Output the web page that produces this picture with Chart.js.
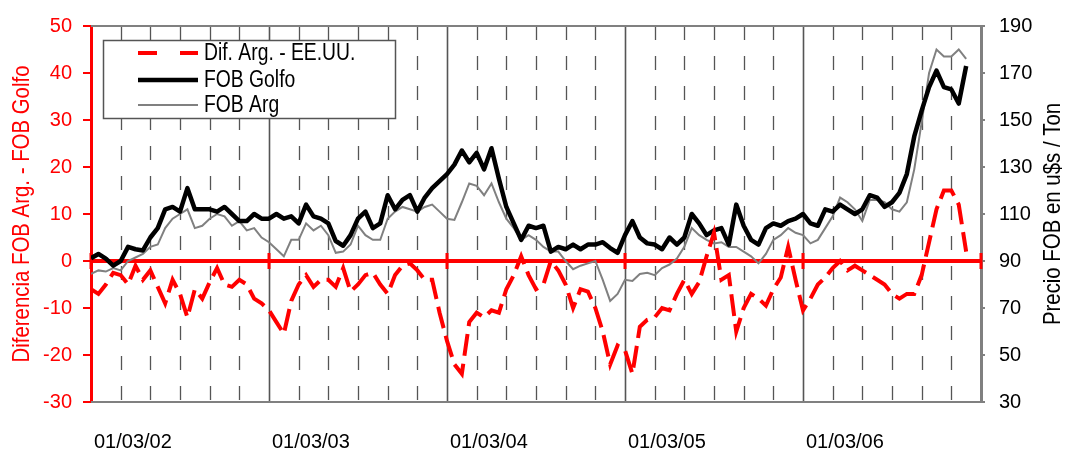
<!DOCTYPE html>
<html>
<head>
<meta charset="utf-8">
<title>FOB Golfo vs FOB Arg</title>
<script src="https://cdn.jsdelivr.net/npm/chart.js@4/dist/chart.umd.min.js"></script>
<style>
  html, body { margin: 0; padding: 0; background: #fff; }
  #wrap { width: 1066px; height: 453px; position: relative; }
</style>
</head>
<body>
<div id="wrap"><canvas id="fob-chart"></canvas></div>
<script>
// half-month samples, starting 01/03/02
const STEP = 0.5;
const yearLabels = ['01/03/02', '01/03/03', '01/03/04', '01/03/05', '01/03/06'];

// Dif. Arg. - EE.UU. (left axis)
const difArgEEUU = [
  -6, -7, -5, -2.5, -3, -5, -1, -4, -2, -5.5, -9, -4, -7, -12, -6, -8, -4.5, -1.5, -5, -5.5,
  -4, -5, -8, -9, -10.5, -13, -15.5, -8.5, -5, -3, -5.5, -4, -4, -5.5, -1.5, -6.5, -5, -3, -2.5, -5,
  -7, -3, -1, -0.5, -2, -4, -4, -11, -17, -22, -24, -13, -11, -12, -10.5, -11, -6, -3, 1, -3,
  -6, -5, 0, -2, -5, -10, -6, -6.5, -10, -15, -22, -18, -19, -24, -14, -12.5, -12, -10, -10.5, -7,
  -4, -7, -4.5, 1, 6, -4, -3, -15, -10, -7, -8, -9.5, -6, -3.5, 3, -4, -10.5, -8, -5, -3.5,
  -1.5, 0, -2, -1, -2, -3, -4, -5, -7, -8, -7, -7, -3, 4, 11, 15, 15, 12, 2
];

// FOB Golfo (right axis)
const fobGolfo = [
  91.2, 93, 91, 88, 90, 96, 95, 94.5, 100, 104, 112, 113, 111, 121, 112, 112, 112, 111, 113, 110,
  107, 107, 110, 108, 108, 110, 108, 109, 106, 114, 109, 108, 106, 98.5, 96.5, 101, 108, 111, 104, 106,
  118, 112, 116, 118, 111, 117, 121, 124, 127, 131, 137, 132, 136, 129, 138, 125, 113, 106, 99, 105,
  104, 105, 94, 96, 95, 97, 95, 97, 97, 98, 95.5, 93.5, 101, 107, 100, 97.5, 97, 95, 100, 97,
  100, 110, 106, 101, 103, 104, 97, 114, 105, 99, 97, 104, 106, 105, 107, 108, 110, 106, 105, 112,
  111, 114, 112, 110, 112, 118, 117, 113, 115, 119, 127, 143, 154, 164, 171, 164, 163, 157, 173
];

// FOB Arg (right axis)
const fobArg = [
  84.5, 86, 85.5, 87, 86, 90, 91.5, 93, 96, 97, 104, 108, 110, 112, 104, 105, 108, 110, 109, 105,
  107, 103, 104, 100, 98, 95, 92, 99, 99, 106, 103, 105, 101, 93.5, 94, 97, 105, 101, 99, 99,
  108, 111, 113, 112, 111, 113, 114, 111, 108, 107.5, 115, 123, 122, 118, 123, 115, 108, 104, 99, 101,
  99, 96, 94, 94, 90, 86.5, 88, 89, 90, 82, 73, 76, 82, 81.5, 84.5, 85, 84, 87, 88.5, 91,
  96, 104, 101, 99, 97.5, 98, 96, 96, 94, 92, 89, 93, 99, 101, 104, 102, 101, 97.5, 99, 104,
  109, 117, 115, 112, 107, 116, 116, 115, 112, 111, 115, 129, 149, 170, 180, 177, 177, 180, 176
];

const months = difArgEEUU.map((_, i) => i * STEP);
const toPoints = (arr) => arr.map((v, i) => ({ x: months[i], y: v }));

const SANS = "'Liberation Sans', Arimo, Arial, sans-serif";

// narrow-looking text: Liberation Sans squeezed along the reading direction
function narrowText(ctx, text, x, y, size, squeeze, angle, color, align) {
  ctx.save();
  ctx.translate(x, y);
  if (angle) ctx.rotate(angle);
  ctx.scale(squeeze, 1);
  ctx.font = size + 'px ' + SANS;
  ctx.fillStyle = color;
  ctx.textAlign = align;
  ctx.textBaseline = 'middle';
  ctx.fillText(text, 0, 0);
  ctx.restore();
}

// gridlines every 2 months, solid ones at each year, red zero axis with year marks
const gridPlugin = {
  id: 'fobGrid',
  beforeDatasetsDraw(chart) {
    const ctx = chart.ctx;
    const xs = chart.scales.x;
    const ys = chart.scales.y;
    const { top, bottom, left, right } = chart.chartArea;
    ctx.save();
    ctx.strokeStyle = '#555';
    xs.ticks.forEach(t => {
      if (t.value <= xs.min || t.value >= xs.max) return;
      const px = Math.round(xs.getPixelForValue(t.value)) + 0.5;
      const isYear = t.value % 12 === 0;
      ctx.lineWidth = isYear ? 1.6 : 1.3;
      ctx.setLineDash(isYear ? [] : [14, 16]);
      ctx.beginPath();
      ctx.moveTo(px, top);
      ctx.lineTo(px, bottom);
      ctx.stroke();
    });
    ctx.setLineDash([]);
    ctx.strokeStyle = '#808080';
    ctx.lineWidth = 2;
    ctx.beginPath();
    ctx.moveTo(left, top); ctx.lineTo(right, top);
    ctx.moveTo(left, bottom); ctx.lineTo(right, bottom);
    ctx.stroke();

    const y0 = ys.getPixelForValue(0);
    ctx.strokeStyle = '#FF0000';
    ctx.lineWidth = 4;
    ctx.beginPath();
    ctx.moveTo(left, y0); ctx.lineTo(right, y0);
    ctx.stroke();
    ctx.lineWidth = 3;
    xs.ticks.forEach(t => {
      if (t.value % 12 !== 0) return;
      const px = xs.getPixelForValue(t.value);
      ctx.beginPath();
      ctx.moveTo(px, y0 - 8); ctx.lineTo(px, y0 + 8);
      ctx.stroke();
    });
    ctx.restore();
  }
};

// boxed legend in the upper left and the two vertical axis titles
const legendPlugin = {
  id: 'fobLegend',
  afterDraw(chart) {
    const ctx = chart.ctx;
    const { top, bottom } = chart.chartArea;
    ctx.save();
    ctx.fillStyle = '#fff';
    ctx.fillRect(103, 40, 292, 78);
    ctx.strokeStyle = '#555';
    ctx.lineWidth = 1.5;
    ctx.strokeRect(103.5, 40.5, 292, 78);
    const rows = [53, 80, 105];
    chart.data.datasets.forEach((ds, i) => {
      ctx.strokeStyle = ds.borderColor;
      ctx.lineWidth = ds.borderWidth;
      ctx.setLineDash(ds.borderDash ? [19, 23] : []);
      ctx.beginPath();
      ctx.moveTo(138, rows[i]); ctx.lineTo(198, rows[i]);
      ctx.stroke();
      narrowText(ctx, ds.label, 204, rows[i] + 1, 23, 0.84, 0, '#000', 'left');
    });
    ctx.setLineDash([]);

    const midY = (top + bottom) / 2;
    narrowText(ctx, 'Diferencia FOB Arg. - FOB Golfo', 22, midY, 24, 0.85, -Math.PI / 2, '#FF0000', 'center');
    narrowText(ctx, 'Precio FOB en u$s / Ton', 1053, midY, 24, 0.85, -Math.PI / 2, '#000', 'center');
    ctx.restore();
  }
};

new Chart(document.getElementById('fob-chart'), {
  type: 'line',
  data: {
    datasets: [
      {
        label: 'Dif. Arg. - EE.UU.',
        data: toPoints(difArgEEUU),
        yAxisID: 'y',
        borderColor: '#FF0000',
        borderWidth: 4,
        borderDash: [22, 8],
        borderCapStyle: 'butt',
        pointRadius: 0,
        tension: 0
      },
      {
        label: 'FOB Golfo',
        data: toPoints(fobGolfo),
        yAxisID: 'y2',
        borderColor: '#000000',
        borderWidth: 4.5,
        borderJoinStyle: 'round',
        pointRadius: 0,
        tension: 0
      },
      {
        label: 'FOB Arg',
        data: toPoints(fobArg),
        yAxisID: 'y2',
        borderColor: '#808080',
        borderWidth: 2,
        pointRadius: 0,
        tension: 0
      }
    ]
  },
  plugins: [gridPlugin, legendPlugin],
  options: {
    responsive: true,
    maintainAspectRatio: false,
    animation: false,
    layout: { padding: { top: 23, left: 0, right: 0, bottom: 0 } },
    plugins: {
      legend: { display: false },
      tooltip: { enabled: false }
    },
    scales: {
      x: {
        type: 'linear',
        min: 0,
        max: 60,
        grid: { display: false },
        border: { display: false },
        ticks: {
          stepSize: 2,
          autoSkip: false,
          maxRotation: 0,
          align: 'start',
          labelOffset: 3,
          padding: 20,
          color: '#000',
          font: { family: SANS, size: 20 },
          callback: (v) => (v % 12 === 0 && yearLabels[v / 12]) ? yearLabels[v / 12] : ''
        },
        afterFit: (s) => { s.height = 51; }
      },
      y: {
        position: 'left',
        min: -30,
        max: 50,
        ticks: {
          stepSize: 10,
          color: '#FF0000',
          padding: 11,
          font: { family: SANS, size: 20 }
        },
        grid: { drawOnChartArea: false, tickLength: 8, color: '#FF0000', lineWidth: 2 },
        border: { color: '#FF0000', width: 3 },
        afterFit: (s) => { s.width = 91; }
      },
      y2: {
        position: 'right',
        min: 30,
        max: 190,
        ticks: {
          stepSize: 10,
          color: '#000',
          padding: 14,
          font: { family: SANS, size: 20 }
        },
        grid: { drawOnChartArea: false, tickLength: 4, color: '#808080', lineWidth: 2 },
        border: { color: '#808080', width: 3 },
        afterFit: (s) => { s.width = 85; }
      }
    }
  }
});
</script>
</body>
</html>
